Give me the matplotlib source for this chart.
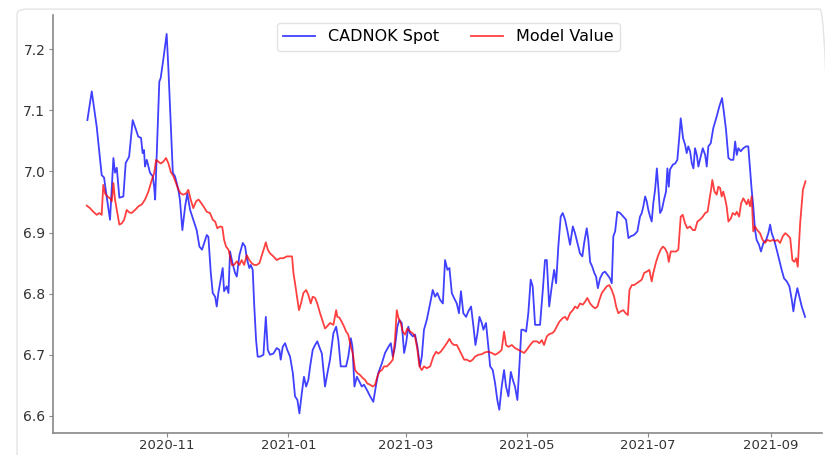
import matplotlib
matplotlib.use("Agg")
import matplotlib.pyplot as plt
import matplotlib.dates as mdates
from matplotlib.patches import FancyBboxPatch
import pandas as pd

# days after 2020-11-01
base_date = pd.Timestamp("2020-11-01")

spot_day = [
    -40.1, -37.9, -35.4, -33.7, -32.9, -31.7, -30.4, -28.7, -27.0, -26.2, -25.3, -24.0, -22.0, -20.8,
    -19.1, -17.3, -15.6, -14.5, -13.1, -12.3, -11.6, -11.1, -10.2, -8.6, -7.2, -6.5, -6.0, -3.9,
    -3.2, -1.9, -0.2, 0.7, 1.9, 2.9, 4.0, 5.7, 6.5, 7.7, 9.1, 10.2, 11.6, 13.2, 14.9, 16.3, 17.6,
    20.0, 20.8, 22.0, 23.0, 24.2, 25.0, 25.8, 27.0, 28.0, 28.7, 30.0, 30.9, 31.7, 32.6, 33.4, 34.2,
    35.1, 36.4, 38.1, 39.3, 40.1, 41.4, 42.1, 43.1, 43.9, 44.8, 45.6, 46.8, 48.5, 49.7, 50.7, 51.8,
    53.5, 55.2, 56.5, 57.2, 58.2, 59.4, 60.5, 61.9, 63.3, 64.4, 65.6, 66.6, 67.8, 68.9, 70.0, 71.1,
    72.0, 73.3, 74.5, 75.6, 76.6, 77.9, 79.5, 80.7, 82.0, 83.7, 85.1, 86.2, 87.4, 88.7, 90.1, 91.2,
    92.5, 93.3, 94.3, 95.5, 96.8, 98.0, 99.1, 100.5, 102.2, 103.8, 105.2, 106.3, 108.1, 109.7, 111.4,
    112.6, 113.6, 114.7, 115.9, 116.9, 118.1, 119.3, 120.3, 121.4, 122.3, 123.7, 124.8, 126.0, 127.3,
    128.2, 129.3, 130.7, 132.4, 133.7, 134.9, 136.0, 137.4, 138.8, 139.9, 141.1, 142.1, 143.3, 144.4,
    145.8, 146.9, 147.9, 149.1, 150.5, 151.6, 153.0, 154.2, 155.2, 156.2, 157.2, 158.4, 159.2, 160.5,
    161.7, 162.6, 163.9, 165.1, 166.2, 167.2, 168.4, 169.6, 170.6, 171.8, 173.0, 174.0, 175.1, 176.3,
    177.3, 178.3, 179.3, 180.7, 181.8, 183.0, 184.0, 185.2, 186.3, 187.7, 189.1, 190.2, 191.1, 192.3,
    193.6, 194.8, 195.8, 196.9, 198.1, 199.1, 200.3, 201.4, 202.8, 204.2, 205.3, 206.5, 207.8, 209.0,
    209.9, 211.2, 212.0, 212.9, 214.0, 215.0, 215.9, 216.8, 217.9, 219.3, 220.4, 221.6, 222.9, 223.8,
    224.6, 225.5, 226.6, 228.0, 229.6, 231.0, 232.2, 233.4, 235.0, 236.7, 238.0, 238.9, 239.7, 240.6,
    241.4, 242.2, 243.1, 243.9, 244.7, 245.6, 246.5, 247.3, 248.1, 249.0, 250.1, 251.1, 251.8, 252.5,
    253.1, 254.5, 255.7, 256.8, 257.8, 258.5, 259.7, 260.7, 261.5, 262.3, 263.2, 264.1, 264.9, 265.7,
    266.6, 267.4, 268.6, 269.6, 270.8, 271.6, 272.4, 273.6, 274.9, 276.6, 277.9, 279.3, 280.3, 281.3,
    282.5, 283.7, 285.0, 285.9, 286.7, 287.5, 288.7, 290.0, 291.4, 292.5, 293.4, 294.2, 295.0, 295.9,
    296.7, 297.9, 298.9, 300.1, 301.5, 302.6, 303.5, 304.3, 305.5, 306.8, 308.1, 309.3, 310.5, 311.9,
    313.2, 314.4, 315.2, 316.0, 317.2, 318.2, 319.4, 321.1,
]
spot_value = [
    7.084, 7.131, 7.073, 7.019, 6.994, 6.990, 6.959, 6.921, 7.022, 6.998, 7.006, 6.957, 6.959, 7.014,
    7.024, 7.084, 7.068, 7.057, 7.055, 7.030, 7.035, 7.008, 7.019, 6.998, 6.992, 6.975, 6.954, 7.147,
    7.153, 7.183, 7.225, 7.166, 7.073, 6.998, 6.992, 6.970, 6.953, 6.904, 6.943, 6.964, 6.937, 6.921, 6.904, 6.877, 6.872,
    6.896, 6.893, 6.834, 6.801, 6.795, 6.779, 6.801, 6.823, 6.842, 6.804, 6.812, 6.801, 6.869, 6.855, 6.844, 6.834,
    6.828, 6.863, 6.883, 6.877, 6.858, 6.842, 6.847, 6.839, 6.779, 6.724, 6.697, 6.697, 6.700, 6.762, 6.708, 6.700,
    6.702, 6.711, 6.708, 6.692, 6.713, 6.719, 6.708, 6.697, 6.670, 6.632, 6.626, 6.604, 6.637, 6.664, 6.648, 6.659,
    6.681, 6.708, 6.716, 6.722, 6.713, 6.702, 6.648, 6.670, 6.692, 6.735, 6.746, 6.724, 6.681, 6.681, 6.681, 6.697,
    6.727, 6.713, 6.648, 6.664, 6.656, 6.648, 6.651, 6.643, 6.632, 6.623, 6.651, 6.670, 6.686, 6.703, 6.713,
    6.719, 6.697, 6.713, 6.746, 6.757, 6.752, 6.703, 6.719, 6.746, 6.735, 6.730, 6.733, 6.713, 6.681,
    6.697, 6.741, 6.757, 6.784, 6.806, 6.795, 6.801, 6.790, 6.784, 6.855, 6.839, 6.842, 6.801, 6.793,
    6.784, 6.768, 6.804, 6.768, 6.762, 6.771, 6.779, 6.746, 6.716, 6.735, 6.762, 6.752, 6.741, 6.752,
    6.713, 6.681, 6.675, 6.653, 6.626, 6.610, 6.648, 6.675, 6.648, 6.632, 6.672, 6.659, 6.648, 6.626,
    6.681, 6.741, 6.741, 6.738, 6.768, 6.823, 6.812, 6.749, 6.749, 6.749, 6.806, 6.855, 6.855, 6.779,
    6.812, 6.839, 6.817, 6.877, 6.926, 6.932, 6.921, 6.904, 6.880, 6.910, 6.899, 6.883, 6.866, 6.861,
    6.883, 6.907, 6.888, 6.852, 6.844, 6.834, 6.828, 6.809, 6.825, 6.834, 6.836, 6.831, 6.825, 6.817,
    6.894, 6.902, 6.934, 6.932, 6.926, 6.921, 6.891, 6.894, 6.896, 6.902, 6.926, 6.932, 6.943, 6.959,
    6.951, 6.937, 6.926, 6.918, 6.948, 6.970, 7.005, 6.970, 6.932, 6.937, 6.954, 6.967, 7.005, 6.975,
    7.003, 7.011, 7.013, 7.019, 7.057, 7.087, 7.054, 7.044, 7.030, 7.041, 7.033, 7.013, 7.005, 7.038,
    7.027, 7.008, 7.025, 7.038, 7.027, 7.008, 7.041, 7.046, 7.071, 7.090, 7.106, 7.120, 7.095, 7.068,
    7.022, 7.019, 7.019, 7.049, 7.027, 7.038, 7.033, 7.038, 7.041, 7.041, 7.003, 6.970, 6.943, 6.904,
    6.888, 6.880, 6.869, 6.883, 6.888, 6.899, 6.913, 6.899, 6.888, 6.872, 6.855, 6.839, 6.825, 6.820,
    6.812, 6.790, 6.771, 6.790, 6.809, 6.795, 6.779, 6.762,
]

model_day = [
    -40.4, -38.8, -37.1, -35.4, -34.1, -32.9, -32.1, -31.2, -30.0, -28.7, -27.8, -27.0, -26.2, -25.0,
    -24.0, -22.8, -21.6, -20.3, -19.0, -17.8, -16.1, -14.4, -12.7, -11.1, -9.4, -7.7, -6.5, -5.5,
    -4.4, -3.2, -1.9, -0.5, 0.7, 1.9, 3.2, 4.5, 5.7, 6.9, 8.2, 9.6, 10.7, 11.9, 13.2, 14.6, 15.8,
    16.6, 18.3, 20.0, 21.6, 23.0, 24.2, 25.3, 26.7, 27.8, 28.7, 29.7, 30.9, 31.7, 32.6, 33.7, 35.1,
    36.4, 37.6, 38.8, 40.1, 41.4, 42.6, 43.8, 45.1, 46.5, 47.7, 48.8, 49.7, 50.7, 51.8, 53.5, 55.2,
    56.9, 58.5, 60.2, 61.9, 62.9, 63.6, 64.4, 65.6, 66.4, 67.4, 68.6, 70.0, 71.1, 72.3, 73.3, 74.5,
    75.6, 77.0, 78.4, 79.5, 80.4, 82.0, 83.7, 85.1, 85.7, 86.7, 87.9, 89.1, 90.1, 91.2, 92.5, 93.5,
    94.6, 95.8, 97.1, 98.5, 99.6, 100.8, 102.2, 103.5, 104.7, 105.8, 106.8, 108.1, 109.2, 110.6, 112.2,
    113.6, 114.7, 115.6, 116.4, 117.6, 118.6, 119.8, 120.9, 122.3, 123.7, 124.8, 126.0, 127.0, 128.2,
    129.3, 130.7, 132.4, 134.0, 135.4, 136.5, 137.7, 139.1, 140.8, 142.1, 143.3, 144.4, 145.8, 147.1,
    148.3, 149.5, 150.8, 152.5, 153.8, 155.0, 156.7, 158.4, 160.0, 161.7, 163.4, 165.1, 166.7, 168.4,
    169.6, 170.6, 171.8, 173.5, 175.1, 176.8, 178.5, 179.7, 181.0, 182.7, 184.3, 186.1, 187.4, 188.6,
    189.7, 191.1, 192.4, 193.6, 194.8, 196.1, 197.4, 199.1, 200.3, 201.4, 202.8, 204.2, 205.3, 206.5,
    207.8, 209.2, 210.4, 211.5, 212.9, 214.2, 215.4, 216.6, 217.6, 218.8, 219.9, 221.3, 222.6, 223.8,
    225.0, 226.0, 227.1, 228.3, 229.6, 230.8, 231.9, 232.7, 233.9, 235.0, 236.4, 237.7, 238.9, 240.1,
    241.4, 242.7, 243.9, 244.7, 246.1, 247.2, 248.4, 249.5, 250.6, 251.8, 252.5, 253.5, 254.8, 256.2,
    257.3, 258.5, 259.5, 260.7, 261.8, 263.2, 264.6, 265.7, 266.9, 268.2, 269.6, 270.8, 272.0, 273.0,
    273.9, 274.4, 275.5, 276.6, 277.4, 278.3, 279.1, 279.9, 280.8, 281.6, 282.5, 283.7, 284.7, 285.9,
    286.7, 287.9, 288.9, 290.0, 290.9, 291.7, 292.5, 293.4, 294.2, 295.0, 295.9, 297.0, 298.4, 299.7,
    300.9, 302.1, 303.5, 304.8, 306.0, 307.2, 308.5, 309.9, 311.1, 312.2, 313.6, 314.7, 315.7, 316.6,
    317.4, 318.6, 320.0, 321.3,
]
model_value = [
    6.944, 6.940, 6.934, 6.929, 6.932, 6.929, 6.978, 6.964, 6.959, 6.956, 6.951, 6.981, 6.954, 6.932,
    6.913, 6.915, 6.921, 6.937, 6.933, 6.932, 6.937, 6.943, 6.946, 6.954, 6.967, 6.986, 6.997, 7.019,
    7.016, 7.013, 7.016, 7.022, 7.013, 6.999, 6.992, 6.981, 6.970, 6.964, 6.962, 6.964, 6.970, 6.954, 6.940, 6.951, 6.954,
    6.951, 6.943, 6.934, 6.932, 6.921, 6.918, 6.907, 6.910, 6.909, 6.888, 6.877, 6.872, 6.861, 6.847, 6.847, 6.853,
    6.847, 6.855, 6.847, 6.863, 6.855, 6.850, 6.847, 6.847, 6.850, 6.863, 6.874, 6.884, 6.872, 6.866, 6.861, 6.855,
    6.858, 6.858, 6.861, 6.861, 6.861, 6.834, 6.817, 6.790, 6.773, 6.784, 6.801, 6.806, 6.798, 6.784, 6.795, 6.793,
    6.784, 6.768, 6.754, 6.743, 6.746, 6.752, 6.749, 6.773, 6.762, 6.761, 6.754, 6.746, 6.738, 6.733, 6.713, 6.702,
    6.675, 6.670, 6.667, 6.662, 6.659, 6.653, 6.651, 6.648, 6.651, 6.664, 6.672, 6.675, 6.681, 6.681, 6.686,
    6.692, 6.724, 6.773, 6.761, 6.752, 6.738, 6.733, 6.743, 6.738, 6.735, 6.730, 6.708, 6.681, 6.675,
    6.681, 6.678, 6.681, 6.697, 6.705, 6.702, 6.705, 6.711, 6.719, 6.726, 6.719, 6.716, 6.716, 6.708,
    6.700, 6.692, 6.692, 6.689, 6.692, 6.697, 6.700, 6.701, 6.704, 6.705, 6.703, 6.700, 6.703, 6.708,
    6.738, 6.716, 6.713, 6.716, 6.711, 6.708, 6.705, 6.703, 6.708, 6.716, 6.722, 6.722, 6.719, 6.724,
    6.716, 6.730, 6.734, 6.735, 6.738, 6.746, 6.754, 6.760, 6.762, 6.757, 6.768, 6.773, 6.779, 6.776,
    6.784, 6.782, 6.787, 6.793, 6.784, 6.779, 6.776, 6.779, 6.790, 6.801, 6.806, 6.812, 6.814, 6.806,
    6.795, 6.779, 6.768, 6.771, 6.773, 6.768, 6.765, 6.806, 6.814, 6.814, 6.817, 6.820, 6.823, 6.834,
    6.836, 6.839, 6.820, 6.834, 6.852, 6.863, 6.872, 6.877, 6.874, 6.866, 6.852, 6.869, 6.869, 6.869,
    6.872, 6.926, 6.929, 6.915, 6.907, 6.910, 6.904, 6.904, 6.918, 6.921, 6.926, 6.932, 6.934, 6.954,
    6.973, 6.986, 6.967, 6.962, 6.975, 6.973, 6.959, 6.967, 6.956, 6.943, 6.918, 6.923, 6.932, 6.929,
    6.934, 6.926, 6.948, 6.956, 6.951, 6.946, 6.954, 6.943, 6.959, 6.902, 6.910, 6.904, 6.899, 6.888,
    6.883, 6.888, 6.886, 6.888, 6.886, 6.888, 6.883, 6.894, 6.899, 6.896, 6.891, 6.855, 6.852, 6.858,
    6.844, 6.915, 6.970, 6.984,
]

spot_dates = base_date + pd.to_timedelta(spot_day, unit="D")
model_dates = base_date + pd.to_timedelta(model_day, unit="D")

fig = plt.figure(figsize=(8.25, 4.55), dpi=100)
fig.patch.set_facecolor("white")

# light frame around the output cell
frame = FancyBboxPatch((17 / 825, -0.05), 0.985, 1.03, boxstyle="round,pad=0,rounding_size=0.012",
                       transform=fig.transFigure, facecolor="none", edgecolor="#e4e4e4", lw=1.0, zorder=0)
fig.patches.append(frame)

ax = fig.add_axes([53 / 825, 22 / 455, 769 / 825, 418 / 455])

ax.plot(spot_dates, spot_value, color="blue", alpha=0.75, lw=1.3, label="CADNOK Spot")
ax.plot(model_dates, model_value, color="red", alpha=0.75, lw=1.3, label="Model Value")

ax.set_xlim(base_date + pd.Timedelta(days=-57.4), base_date + pd.Timedelta(days=329.6))
ax.set_ylim(6.572, 7.256)
ax.set_yticks([6.6, 6.7, 6.8, 6.9, 7.0, 7.1, 7.2])

ax.xaxis.set_major_locator(mdates.MonthLocator(bymonth=[1, 3, 5, 7, 9, 11]))
ax.xaxis.set_major_formatter(mdates.DateFormatter("%Y-%m"))

for side in ["top", "right"]:
    ax.spines[side].set_visible(False)
for side in ["left", "bottom"]:
    ax.spines[side].set_color("#888888")
    ax.spines[side].set_linewidth(1.2)
ax.tick_params(colors="#888888", labelcolor="#333333", labelsize=10, length=3, pad=2.5)
ax.tick_params(axis="x", labelsize=9.5, pad=1.5)

leg = ax.legend(loc="upper center", bbox_to_anchor=(0.514, 1.0), ncol=2, fontsize=11.5,
                frameon=True, fancybox=True)
leg.get_frame().set_edgecolor("#dddddd")

fig.savefig("out.png", dpi=100)
